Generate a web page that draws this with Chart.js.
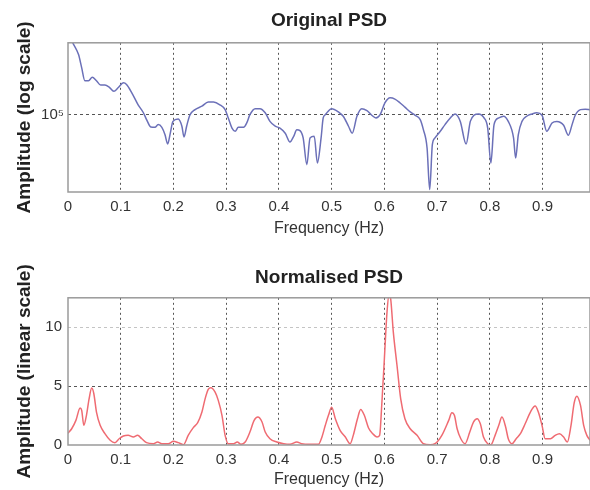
<!DOCTYPE html>
<html>
<head>
<meta charset="utf-8">
<script src="https://cdn.jsdelivr.net/npm/chart.js@4"></script>
<style>
  body { margin: 0; background: #fff; }
  canvas { position: absolute; left: 0; }
  #psdTop { top: 0; }
  #psdBottom { top: 250px; }
</style>
</head>
<body>
<canvas id="psdTop" width="590" height="245"></canvas>
<canvas id="psdBottom" width="590" height="240"></canvas>
<script>
// --- data ---
const xTicks = [0, 0.1, 0.2, 0.3, 0.4, 0.5, 0.6, 0.7, 0.8, 0.9];
const xTickLabels = ['0', '0.1', '0.2', '0.3', '0.4', '0.5', '0.6', '0.7', '0.8', '0.9'];

const origTicks = [100000];
const origTickLabels = ['10\u2075'];
const origFreq = [0.009,0.020,0.026,0.032,0.039,0.046,0.054,0.062,0.070,0.078,
  0.087,0.095,0.105,0.111,0.121,0.133,0.143,0.149,0.157,0.165,
  0.171,0.178,0.184,0.189,0.194,0.199,0.209,0.216,0.220,0.225,
  0.231,0.241,0.254,0.266,0.276,0.288,0.298,0.304,0.311,0.317,
  0.323,0.333,0.339,0.345,0.355,0.364,0.374,0.383,0.393,0.402,
  0.412,0.421,0.428,0.434,0.440,0.446,0.453,0.459,0.467,0.473,
  0.480,0.484,0.488,0.500,0.513,0.522,0.532,0.539,0.548,0.557,
  0.567,0.576,0.584,0.592,0.601,0.611,0.620,0.630,0.639,0.649,
  0.658,0.668,0.674,0.681,0.686,0.691,0.696,0.706,0.715,0.725,
  0.734,0.744,0.755,0.763,0.770,0.779,0.788,0.796,0.802,0.808,
  0.817,0.826,0.835,0.845,0.849,0.854,0.861,0.870,0.880,0.889,
  0.899,0.908,0.918,0.927,0.940,0.949,0.956,0.962,0.972,0.981,0.990];
const origAmp = [366000,296000,233000,185000,185000,197000,185000,171000,171000,165000,
  153000,163000,178000,173000,149000,120000,104000,92000,80500,80000,
  84000,80000,70000,59300,72000,89000,93000,81600,67300,81600,
  99500,110000,117000,126000,126000,120000,110000,94700,79000,74600,
  80000,80000,86600,100500,112000,112000,104000,89000,81600,79000,
  72000,61500,68100,76700,75400,66100,40900,66100,68100,42100,
  66100,94700,100500,112000,105500,97700,81600,72000,97700,112000,
  108000,99500,94700,100500,124000,136000,133000,124000,115000,105500,
  99500,92000,76700,55200,26100,58600,66100,74600,84000,94700,
  101800,89000,59300,89000,99500,101800,96000,79000,42100,84000,
  94700,97700,89000,66100,46100,70000,89000,97700,101800,104000,
  99500,74600,86600,89000,83000,69400,84000,99500,110000,111000,110000];

const normTicks = [0, 5, 10];
const normTickLabels = ['0', '5', '10'];
const normFreq = [0,0.007,0.015,0.023,0.026,0.030,0.035,0.040,0.045,0.049,
  0.054,0.061,0.070,0.080,0.089,0.097,0.105,0.114,0.124,0.132,
  0.140,0.149,0.162,0.170,0.178,0.190,0.200,0.209,0.219,0.228,
  0.238,0.246,0.254,0.260,0.266,0.271,0.279,0.285,0.292,0.298,
  0.304,0.314,0.321,0.328,0.336,0.345,0.353,0.360,0.368,0.374,
  0.383,0.396,0.409,0.421,0.434,0.443,0.459,0.475,0.481,0.488,
  0.494,0.500,0.507,0.516,0.526,0.535,0.541,0.549,0.555,0.562,
  0.570,0.578,0.586,0.591,0.595,0.600,0.605,0.609,0.612,0.617,
  0.624,0.631,0.639,0.649,0.662,0.674,0.687,0.696,0.709,0.722,
  0.728,0.733,0.738,0.745,0.753,0.762,0.769,0.776,0.782,0.788,
  0.796,0.802,0.810,0.817,0.823,0.830,0.835,0.842,0.850,0.858,
  0.867,0.877,0.886,0.892,0.899,0.905,0.915,0.924,0.932,0.940,
  0.947,0.954,0.960,0.965,0.972,0.978,0.984,0.990];
const normAmp = [1.0,1.38,2.09,3.14,2.94,1.67,2.52,3.92,4.83,4.35,
  2.8,1.67,0.96,0.40,0.2,0.53,0.76,0.82,0.68,0.82,
  0.53,0.2,0.11,0.25,0.11,0.11,0.31,0.2,0.03,0.82,
  1.5,1.9,2.8,3.92,4.72,4.86,4.49,3.79,2.52,0.82,
  0.11,0.11,0.25,0.06,0.25,1.1,2.09,2.37,1.95,1.1,
  0.53,0.25,0.11,0.06,0.25,0.11,0.06,0.06,0.6,1.67,
  2.52,3.2,2.23,1.25,0.68,0.11,0.82,2.23,3.02,2.52,
  1.44,0.96,0.68,0.82,3.36,7.31,11.27,12.8,12.4,9.58,
  6.75,3.92,2.23,1.38,0.82,0.11,0.03,0.11,0.82,2.09,
  2.74,2.5,1.38,0.53,0.11,1.1,1.95,2.23,1.8,0.68,
  0.11,0.03,0.82,1.67,2.37,1.53,0.53,0.11,0.53,0.96,
  1.8,2.8,3.31,2.8,1.67,0.53,0.53,0.82,0.96,0.68,
  0.25,1.67,3.58,4.15,3.36,1.67,0.82,0.4];

Chart.defaults.font.family = '"Liberation Sans", Arial, sans-serif';

// grey box round the plot area, like the matlab axes
const framePlugin = {
    id: 'frame',
    afterDatasetsDraw(chart) {
        const { ctx, chartArea: a } = chart;
        ctx.save();
        ctx.strokeStyle = '#9a9a9a';
        ctx.lineWidth = 1.5;
        ctx.strokeRect(a.left, a.top, a.right - a.left, a.bottom - a.top);
        ctx.restore();
    }
};

function makeChart(id, cfg) {
    const points = cfg.freq.map((f, i) => ({ x: f, y: cfg.amp[i] }));
    return new Chart(document.getElementById(id), {
        type: 'line',
        data: {
            datasets: [{
                data: points,
                borderColor: cfg.color,
                borderWidth: 1.5,
                pointRadius: 0,
                cubicInterpolationMode: 'monotone'
            }]
        },
        options: {
            responsive: false,
            animation: false,
            layout: { padding: 0 },
            plugins: {
                legend: { display: false },
                tooltip: { enabled: false },
                title: {
                    display: true,
                    text: cfg.title,
                    fullSize: false,
                    color: '#222',
                    font: { size: 19, weight: 'bold' },
                    padding: cfg.titlePad
                }
            },
            scales: {
                x: {
                    type: 'linear',
                    min: 0,
                    max: 0.99,
                    afterBuildTicks: s => { s.ticks = xTicks.map(v => ({ value: v })); },
                    afterFit: s => { s.height = cfg.xHeight; },
                    grid: {
                        drawTicks: false,
                        color: c => c.tick && c.tick.value === 0 ? 'transparent' : '#555',
                        lineWidth: 1,
                        borderDash: [2, 3]
                    },
                    border: { display: false, dash: [2, 3] },
                    ticks: {
                        padding: 6,
                        color: '#333',
                        font: { size: 15 },
                        callback: (v, i) => xTickLabels[i]
                    },
                    title: {
                        display: true,
                        text: 'Frequency (Hz)',
                        color: '#333',
                        font: { size: 16 },
                        padding: { top: 0, bottom: cfg.xTitlePad }
                    }
                },
                y: {
                    type: cfg.yType,
                    min: cfg.yMin,
                    max: cfg.yMax,
                    afterBuildTicks: s => { s.ticks = cfg.yTicks.map(v => ({ value: v })); },
                    afterFit: s => { s.width = 68; },
                    grid: {
                        drawTicks: false,
                        color: cfg.yGridColor,
                        lineWidth: 1,
                        borderDash: [3, 3]
                    },
                    border: { display: false, dash: [3, 3] },
                    ticks: {
                        padding: cfg.yTickPad,
                        color: '#333',
                        font: { size: 15 },
                        callback: (v, i) => cfg.yLabels[i]
                    },
                    title: {
                        display: true,
                        text: cfg.yTitle,
                        color: '#222',
                        font: { size: 19, weight: 'bold' },
                        padding: { top: 13, bottom: 0 }
                    }
                }
            }
        },
        plugins: [framePlugin]
    });
}

makeChart('psdTop', {
    title: 'Original PSD',
    titlePad: { top: 9, bottom: 11 },
    freq: origFreq,
    amp: origAmp,
    color: '#6b70b8',
    xHeight: 53,
    xTitlePad: 7,
    yType: 'logarithmic',
    yMin: 25000,
    yMax: 366000,
    yTicks: origTicks,
    yLabels: origTickLabels,
    yTickPad: 4,
    yGridColor: '#555',
    yTitle: 'Amplitude (log scale)'
});

makeChart('psdBottom', {
    title: 'Normalised PSD',
    titlePad: { top: 16, bottom: 9 },
    freq: normFreq,
    amp: normAmp,
    color: '#ef6b72',
    xHeight: 45,
    xTitlePad: 1,
    yType: 'linear',
    yMin: 0,
    yMax: 12.5,
    yTicks: normTicks,
    yLabels: normTickLabels,
    yTickPad: 6,
    yGridColor: c => {
        if (!c.tick) return '#555';
        if (c.tick.value === 0) return 'transparent';
        return c.tick.value === 10 ? '#c4c4c4' : '#555';
    },
    yTitle: 'Amplitude (linear scale)'
});
</script>
</body>
</html>
